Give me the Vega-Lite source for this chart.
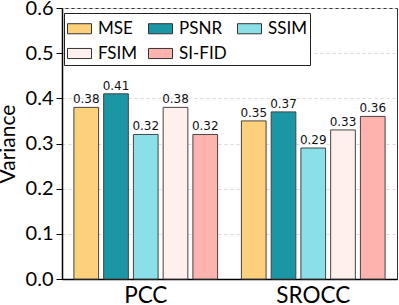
{
  "$schema": "https://vega.github.io/schema/vega-lite/v6.json",
  "autosize": "none",
  "width": 335,
  "height": 271,
  "padding": {"left": 62, "top": 8, "right": 2, "bottom": 26},
  "background": "white",
  "config": {
    "view": {"stroke": "#333", "strokeWidth": 1},
    "font": "Lato"
  },
  "data": {
    "values": [
      {"metric": "PCC", "method": "MSE", "value": 0.38},
      {"metric": "PCC", "method": "PSNR", "value": 0.41},
      {"metric": "PCC", "method": "SSIM", "value": 0.32},
      {"metric": "PCC", "method": "FSIM", "value": 0.38},
      {"metric": "PCC", "method": "SI-FID", "value": 0.32},
      {"metric": "SROCC", "method": "MSE", "value": 0.35},
      {"metric": "SROCC", "method": "PSNR", "value": 0.37},
      {"metric": "SROCC", "method": "SSIM", "value": 0.29},
      {"metric": "SROCC", "method": "FSIM", "value": 0.33},
      {"metric": "SROCC", "method": "SI-FID", "value": 0.36}
    ]
  },
  "encoding": {
    "x": {
      "field": "metric", "type": "nominal",
      "scale": {"paddingInner": 0, "paddingOuter": 0},
      "axis": {
        "title": null, "labelAngle": 0, "ticks": false,
        "labelFont": "Lato", "labelFontSize": 22.5, "labelColor": "black",
        "labelPadding": 5, "domainColor": "black", "domainWidth": 1.5
      }
    },
    "xOffset": {
      "field": "method", "type": "nominal",
      "sort": ["MSE", "PSNR", "SSIM", "FSIM", "SI-FID"],
      "scale": {"paddingInner": 0.17, "paddingOuter": 0.4}
    },
    "y": {
      "field": "value", "type": "quantitative",
      "scale": {"domain": [0, 0.6], "nice": false},
      "axis": {
        "title": "Variance", "titleFont": "Lato", "titleFontSize": 21,
        "titleFontWeight": "normal", "titleColor": "black", "titlePadding": 7,
        "values": [0, 0.1, 0.2, 0.3, 0.4, 0.5, 0.6], "format": ".1f",
        "labelFont": "Lato", "labelFontSize": 20, "labelColor": "black",
        "tickColor": "black", "tickSize": 6, "labelPadding": 3,
        "domainColor": "black", "domainWidth": 1.5,
        "grid": true, "gridDash": [3, 3], "gridColor": "#d9d9d9", "gridWidth": 1
      }
    }
  },
  "layer": [
    {
      "mark": {"type": "bar", "stroke": "#444", "strokeWidth": 1},
      "encoding": {
        "color": {
          "field": "method", "type": "nominal",
          "sort": ["MSE", "PSNR", "SSIM", "FSIM", "SI-FID"],
          "scale": {
            "domain": ["MSE", "PSNR", "SSIM", "FSIM", "SI-FID"],
            "range": ["#FDD17C", "#1A96A5", "#8ADFE9", "#FFF0EE", "#FFB3AE"]
          },
          "legend": {
            "title": null,
            "orient": "none",
            "legendX": 2,
            "legendY": 5,
            "direction": "horizontal",
            "columns": 3,
            "columnPadding": 8,
            "rowPadding": 4,
            "padding": 3,
            "strokeColor": "#222",
            "fillColor": "white",
            "symbolType": "M-1,-0.42H1V0.42H-1Z",
            "symbolSize": 576,
            "symbolStrokeColor": "#333",
            "symbolStrokeWidth": 1,
            "symbolOpacity": 1,
            "labelFont": "Lato",
            "labelFontSize": 17,
            "labelColor": "black",
            "labelOffset": 6,
            "labelLimit": 200
          }
        }
      }
    },
    {
      "mark": {"type": "text", "baseline": "alphabetic", "dy": -4, "font": "DejaVu Sans", "fontSize": 12, "color": "#111"},
      "encoding": {
        "text": {"field": "value", "type": "quantitative", "format": ".2f"}
      }
    }
  ]
}
